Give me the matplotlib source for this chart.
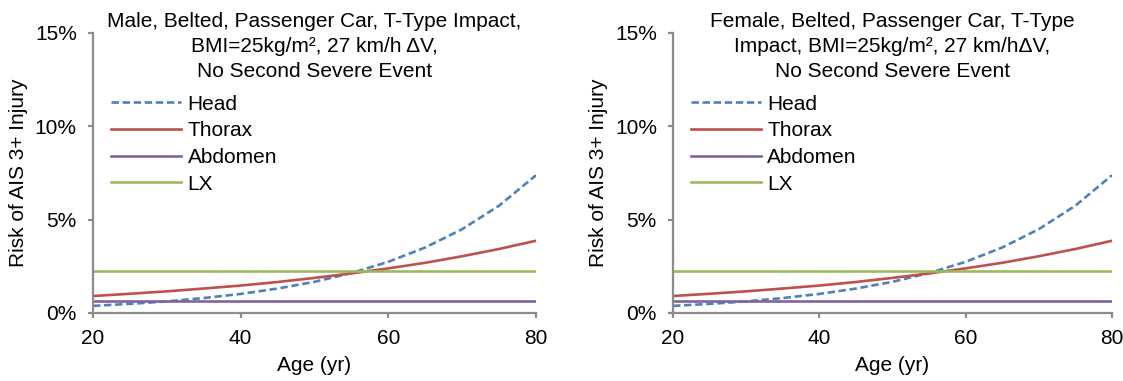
import matplotlib
matplotlib.use("Agg")
import matplotlib.pyplot as plt
import matplotlib.transforms as mtransforms

plt.rcParams["font.family"] = ["Liberation Sans", "DejaVu Sans"]
plt.rcParams["font.size"] = 15

# risk of AIS 3+ injury (%), ages 20..80 every 5 yr
ages = [20, 25, 30, 35, 40, 45, 50, 55, 60, 65, 70, 75, 80]

male_head = [0.38, 0.49, 0.62, 0.80, 1.02, 1.31, 1.67, 2.14, 2.74, 3.51, 4.49, 5.75, 7.38]
male_thorax = [0.91, 1.03, 1.16, 1.31, 1.47, 1.66, 1.88, 2.12, 2.39, 2.69, 3.04, 3.43, 3.87]
male_abdomen = [0.64] * 13
male_lx = [2.24] * 13

female_head = [0.38, 0.49, 0.62, 0.80, 1.02, 1.31, 1.67, 2.14, 2.74, 3.51, 4.49, 5.75, 7.38]
female_thorax = [0.91, 1.03, 1.16, 1.31, 1.47, 1.66, 1.88, 2.12, 2.39, 2.69, 3.04, 3.43, 3.87]
female_abdomen = [0.64] * 13
female_lx = [2.24] * 13

titles = [
    "Male, Belted, Passenger Car, T-Type Impact,\nBMI=25kg/m\u00b2, 27 km/h \u0394V,\nNo Second Severe Event",
    "Female, Belted, Passenger Car, T-Type\nImpact, BMI=25kg/m\u00b2, 27 km/h\u0394V,\nNo Second Severe Event",
]
x_ticks = [20, 40, 60, 80]
y_ticks = [0, 5, 10, 15]
y_tick_labels = ["0%", "5%", "10%", "15%"]

colors = {"Head": "#4F81BD", "Thorax": "#C0504D", "Abdomen": "#8064A2", "LX": "#9BBB59"}
axis_gray = "#8C8C8C"

fig = plt.figure(figsize=(11.23, 3.81), dpi=100)
ax1 = fig.add_axes([0.0828, 0.1785, 0.3945, 0.7349])
ax2 = fig.add_axes([0.5993, 0.1785, 0.3909, 0.7349])

panels = [
    (ax1, male_head, male_thorax, male_abdomen, male_lx, titles[0]),
    (ax2, female_head, female_thorax, female_abdomen, female_lx, titles[1]),
]

for ax, head, thorax, abdomen, lx, title in panels:
    ax.plot(ages, head, color=colors["Head"], lw=1.9, dashes=(2.8, 1.4), label="Head")
    ax.plot(ages, thorax, color=colors["Thorax"], lw=1.9, label="Thorax")
    ax.plot(ages, abdomen, color=colors["Abdomen"], lw=1.9, label="Abdomen")
    ax.plot(ages, lx, color=colors["LX"], lw=1.9, label="LX")

    ax.set_xlim(20, 80)
    ax.set_ylim(0, 15)
    ax.set_xticks(x_ticks)
    ax.set_yticks(y_ticks)
    ax.set_yticklabels(y_tick_labels)

    for side in ["top", "right"]:
        ax.spines[side].set_visible(False)
    for side in ["left", "bottom"]:
        ax.spines[side].set_color(axis_gray)
        ax.spines[side].set_linewidth(1.6)
    ax.tick_params(direction="out", length=3.6, width=1.6, color=axis_gray, pad=8, labelsize=15)

    ax.set_xlabel("Age (yr)", fontsize=15, labelpad=6)
    ax.set_ylabel("Risk of AIS 3+ Injury", fontsize=15, labelpad=5)

    trans = mtransforms.blended_transform_factory(ax.transAxes, fig.transFigure)
    ax.text(0.5, 0.968, title, transform=trans, ha="center", va="top",
            fontsize=15, linespacing=1.38, clip_on=False)

    ax.legend(loc="upper left", bbox_to_anchor=(0.04, 0.78), frameon=False,
              borderpad=0, borderaxespad=0, handlelength=3.37, handletextpad=0.32,
              labelspacing=0.37, fontsize=15)

fig.savefig("out.png", dpi=100)
